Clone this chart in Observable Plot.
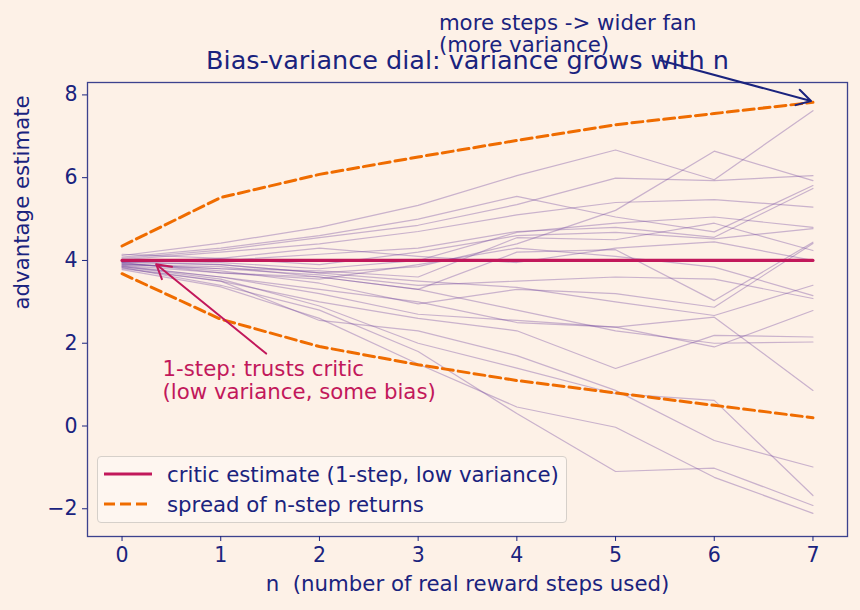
<!DOCTYPE html>
<html>
<head>
<meta charset="utf-8">
<script src="https://cdn.jsdelivr.net/npm/d3@7"></script>
<script src="https://cdn.jsdelivr.net/npm/@observablehq/plot@0.6"></script>
<style>
  body { margin: 0; background: #fdf1e7; }
  #chart { position: relative; width: 860px; height: 610px; font-family: "DejaVu Sans", sans-serif; }
  #chart svg { display: block; }
  .legend { position: absolute; left: 97px; top: 456px; width: 470px; height: 67px;
            border: 1px solid #d6d0ca; border-radius: 4px; background: rgba(254, 247, 241, 0.85);
            color: #1a237e; font-size: 21.3px; box-sizing: border-box; }
  .legend .row { position: absolute; left: 0; height: 26px; display: flex; align-items: center; white-space: nowrap; }
  .legend svg { margin-left: 5px; margin-right: 14px; }
</style>
</head>
<body>
<div id="chart"></div>
<script>
// n = number of real reward steps before bootstrapping from the critic
const steps = [0, 1, 2, 3, 4, 5, 6, 7];
const xTicks = [0, 1, 2, 3, 4, 5, 6, 7];
const yTicks = [-2, 0, 2, 4, 6, 8];

// critic's own value estimate (flat, 1-step)
const criticValue = 4.0;

// envelope of the n-step returns
const upperSpread = [4.35, 5.52, 6.08, 6.50, 6.90, 7.28, 7.55, 7.82];
const lowerSpread = [3.68, 2.58, 1.92, 1.48, 1.10, 0.80, 0.50, 0.20];

// sampled n-step return estimates, one row per rollout (values at n = 0..7)
const rollouts = [
  [4.12, 4.42, 4.80, 5.33, 6.05, 6.67, 5.95, 7.62],
  [3.95, 3.90, 3.70, 3.85, 4.40, 5.21, 6.64, 5.93],
  [4.05, 4.25, 4.55, 4.85, 5.35, 5.99, 5.93, 6.05],
  [4.02, 4.20, 4.40, 4.70, 5.10, 5.40, 5.47, 5.29],
  [4.08, 4.30, 4.60, 5.00, 5.55, 5.05, 4.69, 5.81],
  [3.98, 4.00, 4.15, 4.30, 4.70, 4.80, 4.56, 5.74],
  [3.95, 4.05, 3.90, 4.20, 4.60, 4.68, 4.52, 4.77],
  [4.00, 3.95, 3.80, 4.00, 4.68, 4.90, 5.05, 4.80],
  [3.90, 3.85, 3.60, 3.30, 4.20, 4.26, 3.03, 4.44],
  [3.92, 3.80, 3.75, 3.60, 4.55, 4.50, 4.90, 4.24],
  [3.88, 3.70, 3.55, 3.90, 4.30, 4.10, 3.84, 3.15],
  [3.93, 3.75, 3.45, 2.95, 3.30, 3.20, 2.87, 4.41],
  [3.97, 3.90, 3.70, 3.50, 3.35, 3.00, 2.67, 3.40],
  [3.85, 3.60, 3.30, 3.00, 2.50, 2.39, 2.63, 0.86],
  [3.82, 3.50, 3.00, 2.60, 2.30, 1.39, 2.19, 2.15],
  [3.87, 3.60, 3.20, 2.70, 2.55, 2.39, 1.91, 2.79],
  [3.95, 3.70, 3.60, 3.30, 2.80, 2.30, 2.00, 2.03],
  [3.90, 3.80, 3.65, 3.40, 3.50, 3.60, 3.55, 3.08],
  [3.80, 3.50, 2.55, 2.30, 1.70, 0.86, -0.35, -0.99],
  [3.85, 3.55, 2.90, 2.00, 1.40, 0.78, 0.62, -1.68],
  [3.78, 3.36, 2.60, 1.50, 0.46, -0.03, -1.24, -2.11],
  [3.83, 3.40, 2.80, 1.80, 0.30, -1.10, -1.02, -1.92],
  [4.15, 4.05, 4.30, 4.10, 3.95, 4.30, 4.45, 4.00]
];

// annotation text and arrow endpoints, in data units
const fanNote = "more steps -> wider fan\n(more variance)";
const fanNoteAt = {x: 3.21, y: 9.03};
const fanArrow = {x1: 5.46, y1: 8.83, x2: 7.0, y2: 7.84};
const criticNote = "1-step: trusts critic\n(low variance, some bias)";
const criticNoteAt = {x: 0.41, y: 0.66};
const criticArrow = {x1: 1.46, y1: 1.75, x2: 0.33, y2: 3.94};

const titleText = "Bias-variance dial: variance grows with n";
const xLabel = "n  (number of real reward steps used)";
const yLabel = "advantage estimate";
const legendLabels = ["critic estimate (1-step, low variance)", "spread of n-step returns"];

const navy = "#1a237e";
const crimson = "#c2185b";
const orange = "#ef6c00";
const purple = "#6a3d9a";
const textSize = 21.3;

const rolloutRows = rollouts.flatMap((vals, run) => vals.map((v, i) => ({run, n: steps[i], value: v})));
const upperRows = steps.map((n, i) => ({n, value: upperSpread[i]}));
const lowerRows = steps.map((n, i) => ({n, value: lowerSpread[i]}));
const criticRows = steps.map(n => ({n, value: criticValue}));

const chart = Plot.plot({
  width: 860,
  height: 610,
  marginTop: 82,
  marginBottom: 74,
  marginLeft: 87,
  marginRight: 13,
  style: {background: "transparent", color: navy, fontFamily: "DejaVu Sans, sans-serif", fontSize: textSize + "px"},
  x: {domain: [-0.35, 7.35]},
  y: {domain: [-2.67, 8.3]},
  marks: [
    Plot.line(rolloutRows, {x: "n", y: "value", z: "run", stroke: purple, strokeOpacity: 0.35, strokeWidth: 1.2}),
    Plot.line(upperRows, {x: "n", y: "value", stroke: orange, strokeWidth: 3, strokeDasharray: "11,5"}),
    Plot.line(lowerRows, {x: "n", y: "value", stroke: orange, strokeWidth: 3, strokeDasharray: "11,5"}),
    Plot.line(criticRows, {x: "n", y: "value", stroke: crimson, strokeWidth: 3.2}),
    Plot.arrow([fanArrow], {x1: "x1", y1: "y1", x2: "x2", y2: "y2", stroke: navy, strokeWidth: 2, headLength: 12, insetEnd: 2}),
    Plot.arrow([criticArrow], {x1: "x1", y1: "y1", x2: "x2", y2: "y2", stroke: crimson, strokeWidth: 2, headLength: 12, insetEnd: 2}),
    Plot.text([fanNoteAt], {x: "x", y: "y", text: () => fanNote, textAnchor: "start", lineAnchor: "bottom", lineHeight: 1.05, fill: navy, fontSize: textSize}),
    Plot.text([criticNoteAt], {x: "x", y: "y", text: () => criticNote, textAnchor: "start", lineAnchor: "bottom", lineHeight: 1.05, fill: crimson, fontSize: textSize}),
    Plot.text([titleText], {frameAnchor: "top", dy: -14, lineAnchor: "bottom", fill: navy, fontSize: 25.5}),
    Plot.text([xLabel], {frameAnchor: "bottom", dy: 48, lineAnchor: "middle", fill: navy, fontSize: textSize}),
    Plot.text([yLabel], {frameAnchor: "left", dx: -65, rotate: -90, lineAnchor: "middle", fill: navy, fontSize: textSize}),
    Plot.frame({stroke: navy, strokeOpacity: 0.85, strokeWidth: 1.3}),
    Plot.axisX({ticks: xTicks, tickFormat: "d", tickSize: 5, tickPadding: 6, label: null, stroke: navy, fill: navy, fontSize: 20.5}),
    Plot.axisY({ticks: yTicks, tickFormat: "d", tickSize: 5, tickPadding: 5, label: null, stroke: navy, fill: navy, fontSize: 20.5})
  ]
});

const root = document.getElementById("chart");
root.appendChild(chart);

// legend box in the lower-left of the plot area
const legend = document.createElement("div");
legend.className = "legend";
const rows = [
  {label: legendLabels[0], stroke: crimson, dash: null, top: 4},
  {label: legendLabels[1], stroke: orange, dash: "11,5", top: 34}
];
for (const r of rows) {
  const row = document.createElement("div");
  row.className = "row";
  row.style.top = r.top + "px";
  row.innerHTML = `<svg width="50" height="10"><line x1="1" y1="5" x2="49" y2="5" stroke="${r.stroke}" stroke-width="3.2"${r.dash ? ` stroke-dasharray="${r.dash}"` : ""}/></svg><span>${r.label}</span>`;
  legend.appendChild(row);
}
root.appendChild(legend);
</script>
</body>
</html>
